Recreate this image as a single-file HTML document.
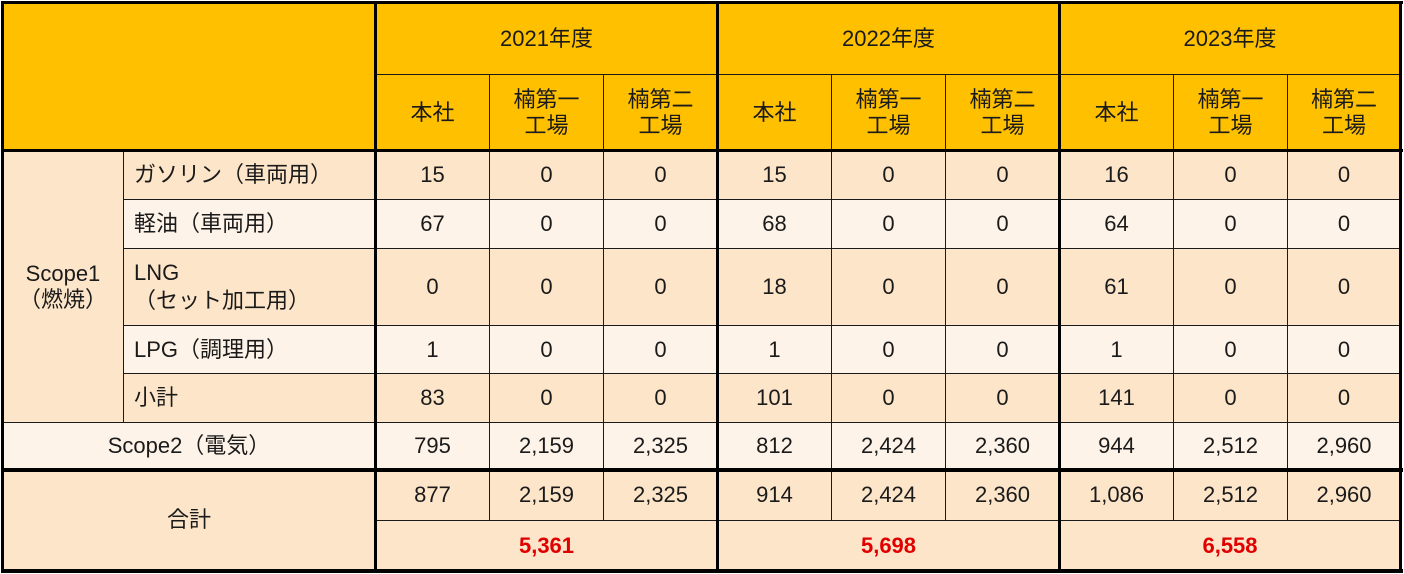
<!DOCTYPE html>
<html><head><meta charset="utf-8">
<style>
body{margin:0;width:1404px;height:574px;background:#fff;overflow:hidden;font-family:"Liberation Sans","Noto Sans CJK JP",sans-serif;}
#t{position:relative;width:1404px;height:574px;}
.c{position:absolute;box-sizing:border-box;border:1px solid #1a1a1a;display:flex;align-items:center;justify-content:center;font-size:22px;color:#1a1a1a;line-height:26px;text-align:center;}
.l{justify-content:flex-start;padding-left:10px;text-align:left;}
.ln{position:absolute;background:#000;}
</style></head><body>
<div id="t"></div>
<script>
const X=[2,123,375,489,603,717,831,945,1059,1173,1287,1400];
const Y=[2,74,150,199,248,325,373,422,469,520,570];
const H='#ffc000',D='#fde5c9',L='#fef3e8';
const years=['2021年度','2022年度','2023年度'];
const sites=['本社','楠第一<br>工場','楠第二<br>工場'];
const rowLabels=['ガソリン（車両用）','軽油（車両用）','LNG<br>（セット加工用）','LPG（調理用）','小計'];
const rowBg=[D,L,D,L,D];
const vals=[
['15','0','0','15','0','0','16','0','0'],
['67','0','0','68','0','0','64','0','0'],
['0','0','0','18','0','0','61','0','0'],
['1','0','0','1','0','0','1','0','0'],
['83','0','0','101','0','0','141','0','0']];
const scope2=['795','2,159','2,325','812','2,424','2,360','944','2,512','2,960'];
const totals=['877','2,159','2,325','914','2,424','2,360','1,086','2,512','2,960'];
const grand=['5,361','5,698','6,558'];
const t=document.getElementById('t');
function cell(c1,c2,r1,r2,html,bg,name,cls,style){
 const d=document.createElement('div');
 d.className='c '+(cls||'');
 d.style.left=X[c1]+'px';d.style.width=(X[c2]-X[c1]+1)+'px';
 d.style.top=Y[r1]+'px';d.style.height=(Y[r2]-Y[r1]+1)+'px';
 d.style.background=bg;
 if(style)d.style.cssText+=style;
 d.innerHTML=html;
 
 
 t.appendChild(d);
}
cell(0,2,0,2,'',H,'corner-header');
years.forEach((y,i)=>cell(2+3*i,5+3*i,0,1,y,H,'year-header-'+(2021+i)));
for(let i=0;i<9;i++)cell(2+i,3+i,1,2,sites[i%3],H,'site-header');
cell(0,1,2,7,'Scope1<br>（燃焼）',D,'scope1-label');
rowLabels.forEach((lab,r)=>{
 cell(1,2,2+r,3+r,lab,rowBg[r],'row-label',(r==2?'l':'l'),r==2?'line-height:28px;':'');
 vals[r].forEach((v,i)=>cell(2+i,3+i,2+r,3+r,v,rowBg[r],'value-cell'));
});
cell(0,2,7,8,'Scope2（電気）',L,'scope2-label');
scope2.forEach((v,i)=>cell(2+i,3+i,7,8,v,L,'scope2-value'));
cell(0,2,8,10,'合計',D,'total-label');
totals.forEach((v,i)=>cell(2+i,3+i,8,9,v,D,'total-value'));
grand.forEach((v,i)=>cell(2+3*i,5+3*i,9,10,v,D,'grand-total','','color:#e00000;font-weight:bold;'));
function line(x,y,w,h,name){
 const d=document.createElement('div');
 d.className='ln';
 d.style.left=x+'px';d.style.top=y+'px';d.style.width=w+'px';d.style.height=h+'px';
 
 
 t.appendChild(d);
}
line(1,1,1402,3,'border-top');
line(1,569,1402,4,'border-bottom');
line(1,1,3,572,'border-left');
line(1399,1,3,572,'border-right');
line(1,149,1402,3,'header-divider');
line(1,468,1402,4,'total-divider');
[375,717,1059].forEach(x=>line(x-1,1,3,572,'year-divider'));
</script>
</body></html>
